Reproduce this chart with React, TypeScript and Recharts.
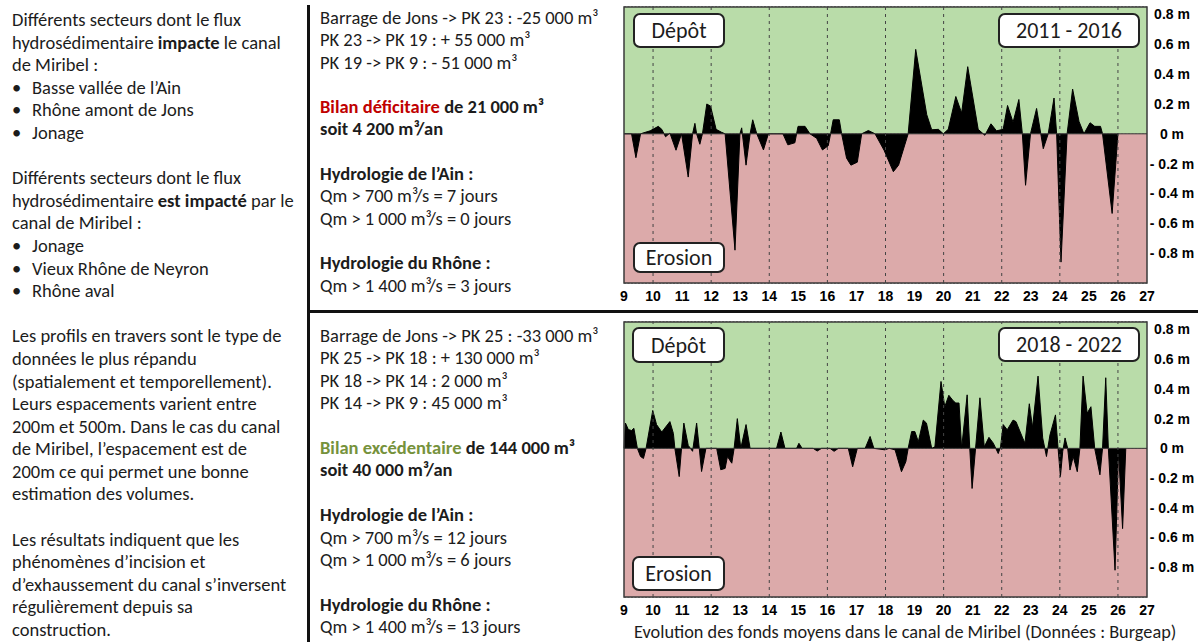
import React from "react";
import { AreaChart, Area, XAxis, YAxis, CartesianGrid, ReferenceArea, ReferenceLine } from "recharts";

// PK (km) and mean bed change (m), 2011 - 2016
const kmTop = [9, 9.26, 9.41, 9.57, 9.9, 10.18, 10.3, 10.43, 10.58, 10.79, 10.98, 11.21, 11.36, 11.44, 11.5, 11.61, 11.7, 11.85, 11.98, 12.17, 12.36, 12.48, 12.82, 12.99, 13.05, 13.2, 13.34, 13.43, 13.57, 13.8, 13.97, 14.47, 14.64, 14.88, 14.99, 15.23, 15.4, 15.63, 15.83, 16.03, 16.11, 16.2, 16.41, 16.49, 16.66, 16.81, 17.03, 17.18, 17.41, 17.64, 17.95, 18.27, 18.45, 18.78, 19.04, 19.42, 19.59, 19.82, 19.99, 20.16, 20.42, 20.62, 20.83, 21.19, 21.42, 21.63, 21.82, 22.05, 22.2, 22.39, 22.59, 22.71, 22.82, 22.99, 23.2, 23.43, 23.6, 23.8, 23.89, 24.04, 24.25, 24.44, 24.66, 24.83, 25.04, 25.2, 25.4, 25.47, 25.8, 26];
const depthTop = [0, 0, -0.16, 0, 0.02, 0.05, 0.03, -0.02, 0.005, -0.11, 0, -0.29, 0, 0.07, 0, -0.07, 0, 0.2, 0.185, 0.03, 0.01, 0, -0.78, 0, 0.04, -0.21, 0, 0.094, 0, -0.108, 0, 0, -0.074, -0.06, 0.05, 0.05, 0, -0.03, -0.108, -0.08, 0, 0.094, 0.094, 0, -0.163, -0.21, -0.19, 0, 0.022, 0, -0.11, -0.254, -0.21, 0, 0.566, 0.128, 0.027, 0.03, 0, 0.03, 0.25, 0.14, 0.45, 0.03, -0.01, 0.067, 0.02, 0.03, 0.19, 0.077, 0.23, 0, -0.345, 0, 0.17, -0.1, 0, 0.24, 0, -0.86, 0, 0.3, 0.083, 0, 0.074, 0.05, 0.05, 0, -0.534, 0];

// PK (km) and mean bed change (m), 2018 - 2022
const kmBottom = [9, 9.05, 9.15, 9.26, 9.34, 9.46, 9.57, 9.67, 9.76, 9.99, 10.12, 10.3, 10.58, 10.7, 10.75, 10.9, 10.98, 11.06, 11.21, 11.36, 11.5, 11.59, 11.67, 11.82, 12.19, 12.33, 12.48, 12.56, 12.71, 12.79, 12.9, 13.02, 13.2, 13.34, 14.25, 14.4, 14.54, 14.94, 15.02, 15.13, 15.51, 15.65, 15.8, 16.09, 16.23, 16.38, 16.72, 16.87, 17.03, 17.3, 17.47, 17.6, 17.98, 18.13, 18.33, 18.55, 18.7, 18.78, 18.9, 19.01, 19.13, 19.3, 19.41, 19.59, 19.7, 19.91, 20.04, 20.18, 20.33, 20.42, 20.53, 20.62, 20.81, 20.9, 20.98, 21.1, 21.25, 21.4, 21.56, 21.71, 21.88, 21.96, 22.05, 22.19, 22.39, 22.49, 22.72, 22.8, 22.95, 23.06, 23.25, 23.41, 23.54, 23.66, 23.85, 23.94, 24.02, 24.1, 24.18, 24.27, 24.35, 24.46, 24.6, 24.69, 24.8, 24.94, 25.07, 25.2, 25.38, 25.47, 25.58, 25.67, 25.9, 26.02, 26.16, 26.27];
const depthBottom = [0, 0.17, 0.126, 0.12, 0.135, 0, -0.055, -0.068, 0, 0.255, 0.16, 0.11, 0.18, 0.1, 0, -0.19, 0, 0.17, 0.02, -0.02, 0.17, 0, -0.156, 0, 0, -0.144, -0.135, -0.055, -0.1, 0, 0.2, 0, 0.16, 0, 0, 0.11, 0, 0, 0.034, 0, 0, -0.018, 0, 0, -0.02, 0, 0, -0.124, 0, 0, 0.08, 0, -0.01, 0, -0.01, -0.157, -0.09, 0, 0.113, 0.113, 0.045, 0.19, 0.17, 0, 0.01, 0.45, 0.28, 0.357, 0.32, 0.305, 0.305, 0, 0.36, 0, -0.27, 0, 0.34, 0.01, 0.074, 0.035, -0.035, 0.01, 0.16, 0.125, 0.19, 0.18, 0.07, 0.035, 0.3, 0.14, 0.486, 0.07, -0.055, 0.09, 0.225, 0, -0.19, -0.02, 0.07, 0, -0.146, -0.055, -0.157, 0, 0.486, 0.236, 0.28, 0, -0.178, 0, 0.475, 0, -0.82, -0.02, -0.54, 0];

const kmTicks = [9, 10, 11, 12, 13, 14, 15, 16, 17, 18, 19, 20, 21, 22, 23, 24, 25, 26, 27];
const kmGrid = [10, 12, 14, 16, 18, 20, 22, 24, 26];
const depthTicks = [-0.8, -0.6, -0.4, -0.2, 0, 0.2, 0.4, 0.6, 0.8];

const GREEN = "#b9dca9";
const RED = "#dcaaaa";
const TEXT = "#1c1c1c";
const BODY_FONT = "Carlito, Calibri, Lato, 'Open Sans', sans-serif";
const AXIS_FONT = "'Liberation Sans', Arial, sans-serif";
const FS = 18.5;

const topData = kmTop.map((km, i) => ({ km, depth: depthTop[i] }));
const bottomData = kmBottom.map((km, i) => ({ km, depth: depthBottom[i] }));

const fmtDepth = (v: number) => (v === 0 ? "0 m" : v > 0 ? `${v} m` : `- ${Math.abs(v)} m`);

function DepthTick(props: any) {
  const { x, y, payload } = props;
  return (
    <text x={x + 17} y={y} dy="0.35em" textAnchor="middle" fontFamily={AXIS_FONT} fontWeight={700} fontSize={14} fill="#000">
      {fmtDepth(payload.value)}
    </text>
  );
}

function Tag({ left, top, width, height, children }: any) {
  return (
    <div
      style={{
        position: "absolute", left, top, width, height, boxSizing: "border-box",
        background: "#fff", border: "2px solid #222", borderRadius: 7,
        display: "flex", alignItems: "center", justifyContent: "center",
        fontFamily: BODY_FONT, fontSize: 22, color: TEXT,
      }}
    >
      {children}
    </div>
  );
}

function ProfileChart({ data, height, marginTop, axisHeight }: any) {
  return (
    <AreaChart width={593} height={height} data={data} margin={{ top: marginTop, right: 0, bottom: 0, left: 14 }}>
      <ReferenceArea x1={9} x2={27} y1={0} y2={0.85} fill={GREEN} fillOpacity={1} stroke="none" />
      <ReferenceArea x1={9} x2={27} y1={-1} y2={0} fill={RED} fillOpacity={1} stroke="none" />
      <CartesianGrid vertical={false} stroke="#333" strokeDasharray="2 1.5" strokeWidth={1} />
      {kmGrid.map((k) => (
        <ReferenceLine key={k} x={k} stroke="#444" strokeDasharray="3 4" strokeWidth={1} />
      ))}
      <XAxis
        dataKey="km" type="number" domain={[9, 27]} ticks={kmTicks} interval={0}
        axisLine={false} tickLine={false} height={axisHeight}
        tick={{ fontFamily: AXIS_FONT, fontWeight: 700, fontSize: 14, fill: "#000" }}
      />
      <YAxis
        orientation="right" type="number" domain={[-1, 0.85]} ticks={depthTicks} interval={0}
        axisLine={false} tickLine={false} width={56} tick={(p: any) => <DepthTick {...p} />}
      />
      <Area type="linear" dataKey="depth" baseValue={0} stroke="#000" strokeWidth={1} fill="#000" fillOpacity={1} isAnimationActive={false} dot={false} activeDot={false} />
      <ReferenceLine y={0} stroke="#333" strokeWidth={1} />
      <ReferenceArea x1={9} x2={27} y1={-1} y2={0.85} fill="none" stroke="#3a3a3a" strokeWidth={1.5} />
    </AreaChart>
  );
}

const lineStyle = { whiteSpace: "nowrap" as const };
const B = ({ children, color }: any) => <b style={{ color }}>{children}</b>;
const Bullet = ({ children }: any) => (
  <div style={lineStyle}>
    <span style={{ display: "inline-block", width: 20 }}>•</span>
    {children}
  </div>
);
const L = ({ children }: any) => <div style={lineStyle}>{children || "\u00a0"}</div>;

export default function App() {
  return (
    <div style={{ position: "absolute", left: 0, top: 0, width: 1203, height: 642, background: "#fff", overflow: "hidden", color: TEXT, fontFamily: BODY_FONT }}>
      {/* left column */}
      <div style={{ position: "absolute", left: 12, top: 9, fontSize: FS, lineHeight: "22.6px" }}>
        <L>Différents secteurs dont le flux</L>
        <L>hydrosédimentaire <b>impacte</b> le canal</L>
        <L>de Miribel :</L>
        <Bullet>Basse vallée de l’Ain</Bullet>
        <Bullet>Rhône amont de Jons</Bullet>
        <Bullet>Jonage</Bullet>
        <L />
        <L>Différents secteurs dont le flux</L>
        <L>hydrosédimentaire <b>est impacté</b> par le</L>
        <L>canal de Miribel :</L>
        <Bullet>Jonage</Bullet>
        <Bullet>Vieux Rhône de Neyron</Bullet>
        <Bullet>Rhône aval</Bullet>
        <L />
        <L>Les profils en travers sont le type de</L>
        <L>données le plus répandu</L>
        <L>(spatialement et temporellement).</L>
        <L>Leurs espacements varient entre</L>
        <L>200m et 500m. Dans le cas du canal</L>
        <L>de Miribel, l’espacement est de</L>
        <L>200m ce qui permet une bonne</L>
        <L>estimation des volumes.</L>
        <L />
        <L>Les résultats indiquent que les</L>
        <L>phénomènes d’incision et</L>
        <L>d’exhaussement du canal s’inversent</L>
        <L>régulièrement depuis sa</L>
        <L>construction.</L>
      </div>

      {/* separators */}
      <div style={{ position: "absolute", left: 307, top: 5, width: 3, height: 637, background: "#111" }} />
      <div style={{ position: "absolute", left: 307, top: 310, width: 891, height: 3, background: "#111" }} />

      {/* middle column, 2011 - 2016 */}
      <div style={{ position: "absolute", left: 320, top: 7, fontSize: FS, lineHeight: "22.3px" }}>
        <L>Barrage de Jons -&gt; PK 23 : -25 000 m³</L>
        <L>PK 23 -&gt; PK 19 : + 55 000 m³</L>
        <L>PK 19 -&gt; PK 9 : - 51 000 m³</L>
        <L />
        <L><B color="#c00000">Bilan déficitaire</B> <B>de 21 000 m³</B></L>
        <L><B>soit 4 200 m³/an</B></L>
        <L />
        <L><B>Hydrologie de l’Ain :</B></L>
        <L>Qm &gt; 700 m³/s = 7 jours</L>
        <L>Qm &gt; 1 000 m³/s = 0 jours</L>
        <L />
        <L><B>Hydrologie du Rhône :</B></L>
        <L>Qm &gt; 1 400 m³/s = 3 jours</L>
      </div>

      {/* middle column, 2018 - 2022 */}
      <div style={{ position: "absolute", left: 320, top: 325, fontSize: FS, lineHeight: "22.4px" }}>
        <L>Barrage de Jons -&gt; PK 25 : -33 000 m³</L>
        <L>PK 25 -&gt; PK 18 : + 130 000 m³</L>
        <L>PK 18 -&gt; PK 14 : 2 000 m³</L>
        <L>PK 14 -&gt; PK 9 : 45 000 m³</L>
        <L />
        <L><B color="#76923c">Bilan excédentaire</B> <B>de 144 000 m³</B></L>
        <L><B>soit 40 000 m³/an</B></L>
        <L />
        <L><B>Hydrologie de l’Ain :</B></L>
        <L>Qm &gt; 700 m³/s = 12 jours</L>
        <L>Qm &gt; 1 000 m³/s = 6 jours</L>
        <L />
        <L><B>Hydrologie du Rhône :</B></L>
        <L>Qm &gt; 1 400 m³/s = 13 jours</L>
      </div>

      {/* charts */}
      <div style={{ position: "absolute", left: 610, top: 0 }}>
        <ProfileChart data={topData} height={310} marginTop={7} axisHeight={27} />
      </div>
      <div style={{ position: "absolute", left: 610, top: 310 }}>
        <ProfileChart data={bottomData} height={332} marginTop={12} axisHeight={45} />
      </div>

      <Tag left={633} top={13} width={92} height={35}>Dépôt</Tag>
      <Tag left={633} top={242} width={92} height={31}>Erosion</Tag>
      <Tag left={998} top={13} width={142} height={35}>2011 - 2016</Tag>
      <Tag left={632} top={327} width={93} height={36}>Dépôt</Tag>
      <Tag left={632} top={556} width={93} height={35}>Erosion</Tag>
      <Tag left={998} top={327} width={142} height={35}>2018 - 2022</Tag>

      <div style={{ position: "absolute", left: 634, top: 621, fontSize: 18.3, lineHeight: "22px", whiteSpace: "nowrap" }}>
        Evolution des fonds moyens dans le canal de Miribel (Données : Burgeap)
      </div>
    </div>
  );
}
